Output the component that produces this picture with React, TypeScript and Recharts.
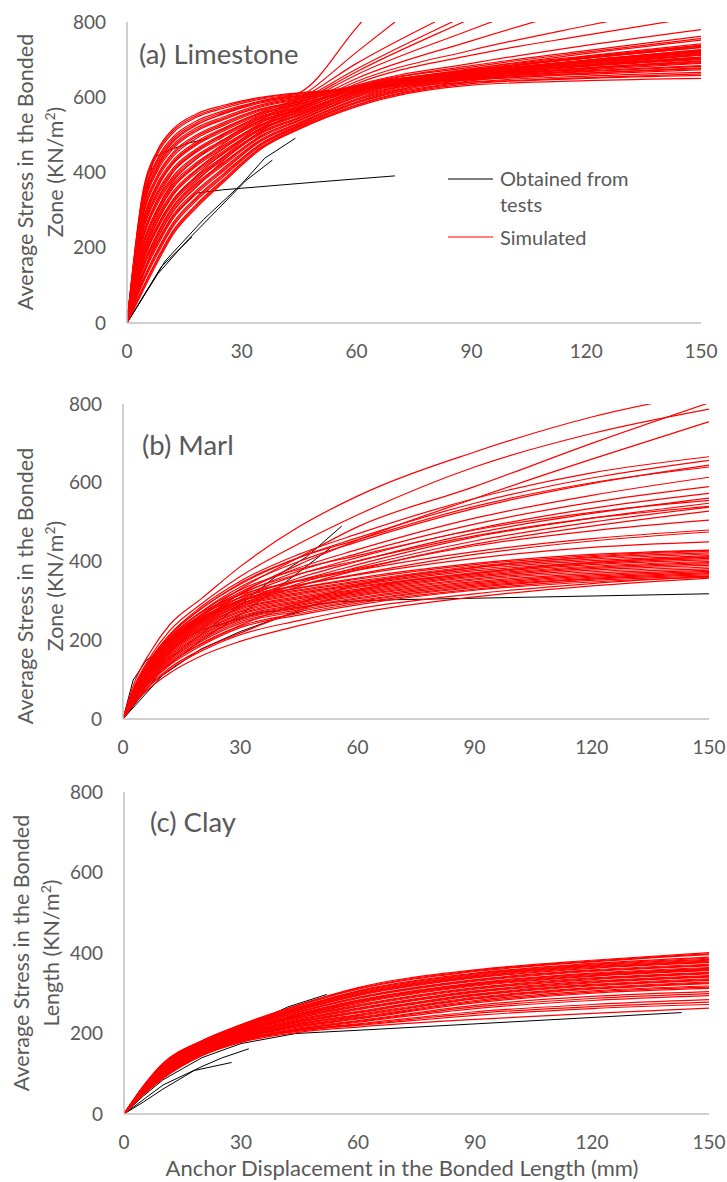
import { LineChart, Line, XAxis, YAxis } from "recharts"

const xTicks = [0, 30, 60, 90, 120, 150]
const yTicks = [0, 200, 400, 600, 800]

// (a) Limestone – simulated curves share one displacement grid
const limestoneX = [0, 4, 8, 12, 18, 25, 35, 45, 60, 90, 120, 150]
const limestoneSim = [
  [0, 340, 460, 515, 555, 578, 600, 612, 622, 640, 652, 662],
  [0, 335, 455, 510, 550, 574, 598, 610, 624, 646, 661, 673],
  [0, 330, 449, 505, 546, 570, 595, 608, 625, 652, 670, 684],
  [0, 321, 438, 494, 536, 563, 590, 605, 628, 662, 686, 706],
  [0, 316, 433, 489, 531, 559, 588, 603, 627, 664, 690, 712],
  [0, 311, 427, 484, 527, 555, 585, 601, 630, 668, 696, 722],
  [0, 302, 416, 473, 518, 547, 580, 598, 624, 648, 664, 676],
  [0, 297, 411, 468, 513, 543, 577, 596, 627, 668, 697, 724],
  [0, 292, 405, 463, 509, 540, 574, 594, 629, 676, 710, 742],
  [0, 283, 394, 453, 499, 532, 569, 590, 626, 660, 684, 704],
  [0, 278, 389, 448, 495, 528, 567, 589, 629, 672, 704, 733],
  [0, 273, 383, 442, 490, 524, 564, 587, 632, 684, 724, 762],
  [0, 264, 372, 432, 481, 517, 559, 583, 620, 650, 668, 682],
  [0, 259, 367, 427, 477, 513, 557, 582, 624, 661, 686, 707],
  [0, 254, 361, 422, 472, 509, 554, 580, 628, 672, 704, 732],
  [0, 245, 350, 411, 462, 502, 549, 576, 623, 656, 678, 696],
  [0, 240, 345, 406, 458, 498, 547, 574, 627, 673, 708, 738],
  [0, 235, 339, 401, 453, 494, 544, 572, 631, 690, 738, 780],
  [0, 226, 328, 390, 444, 486, 539, 569, 619, 654, 676, 692],
  [0, 221, 323, 385, 440, 483, 537, 567, 623, 667, 698, 724],
  [0, 216, 317, 380, 435, 479, 534, 565, 627, 680, 720, 756],
  [0, 206, 305, 370, 425, 471, 528, 562, 618, 664, 694, 720],
  [0, 202, 300, 365, 421, 467, 526, 560, 616, 664, 694, 718],
  [0, 197, 294, 359, 416, 463, 523, 558, 615, 658, 684, 702],
  [0, 187, 283, 349, 407, 456, 518, 555, 617, 670, 706, 738],
  [0, 183, 278, 344, 403, 452, 516, 553, 614, 666, 698, 726],
  [0, 178, 272, 339, 398, 448, 513, 551, 612, 662, 690, 714],
  [0, 168, 261, 328, 388, 441, 508, 547, 610, 674, 716, 752],
  [0, 164, 256, 323, 384, 437, 506, 546, 608, 665, 699, 726],
  [0, 159, 250, 318, 379, 433, 503, 544, 607, 656, 682, 700],
  [0, 149, 239, 308, 370, 425, 498, 540, 604, 668, 704, 736],
  [0, 145, 234, 303, 366, 422, 496, 539, 602, 660, 691, 716],
  [0, 140, 228, 297, 361, 418, 493, 537, 600, 652, 678, 696],
  [0, 130, 217, 287, 351, 410, 488, 533, 596, 660, 694, 722],
  [0, 126, 212, 282, 347, 406, 486, 531, 594, 654, 683, 706],
  [0, 121, 206, 277, 342, 402, 483, 529, 592, 648, 672, 690],
  [0, 111, 195, 266, 333, 395, 477, 526, 588, 654, 686, 712],
  [0, 107, 190, 261, 329, 391, 475, 524, 586, 649, 675, 695],
  [0, 102, 184, 256, 324, 387, 472, 522, 584, 644, 664, 678],
  [0, 92, 173, 245, 314, 380, 467, 519, 580, 640, 656, 666],
  [0, 87, 168, 240, 310, 376, 465, 517, 578, 636, 650, 658],
  [0, 82, 162, 235, 305, 372, 462, 515, 575, 632, 644, 650],
  // curves that keep climbing past the top of the axis
  [0, 300, 420, 480, 525, 555, 590, 612, 785, 1150, 1500, 1850],
  [0, 250, 360, 425, 475, 515, 560, 600, 720, 960, 1200, 1440],
  [0, 220, 330, 400, 455, 500, 552, 595, 690, 850, 1010, 1170],
  [0, 200, 305, 375, 435, 485, 545, 590, 675, 825, 975, 1125],
  [0, 185, 290, 360, 420, 475, 540, 585, 668, 810, 950, 1090],
  [0, 170, 270, 340, 405, 462, 532, 580, 660, 780, 895, 1010],
  [0, 155, 255, 325, 390, 450, 525, 575, 650, 750, 840, 925],
  [0, 140, 240, 310, 375, 440, 518, 570, 642, 725, 790, 850],
  [0, 125, 225, 295, 360, 430, 510, 565, 636, 712, 765, 815],
]
const limestoneTests = [
  [[0, 0], [3, 250], [7, 440], [10, 455], [16, 478], [21, 490]],
  [[0, 0], [6, 180], [12, 285], [18, 345], [25, 354], [50, 375], [70, 391]],
  [[0, 0], [8, 130], [16, 222], [24, 305], [31, 378], [38, 433]],
  [[0, 0], [10, 165], [20, 275], [30, 370], [36, 438], [44, 491]],
  [[0, 0], [9, 150], [17, 229]],
]

// (b) Marl
const marlX = [0, 3, 7, 12, 20, 30, 45, 60, 90, 120, 150]
const marlSim = [
  [0, 95, 170, 240, 305, 387, 488, 566, 678, 767, 830],
  [0, 85, 158, 225, 292, 362, 445, 518, 640, 725, 787],
  [0, 70, 135, 195, 262, 330, 410, 488, 590, 700, 803],
  [0, 65, 128, 185, 250, 318, 392, 454, 560, 660, 755],
  [0, 80, 150, 215, 285, 350, 418, 470, 560, 625, 666],
  [0, 82, 152, 214, 280, 345, 410, 455, 540, 600, 640],
  [0, 78, 148, 212, 280, 342, 410, 460, 548, 612, 657],
  [0, 75, 143, 205, 272, 335, 400, 450, 535, 598, 645],
  [0, 73, 140, 200, 265, 322, 384, 430, 510, 568, 614],
  [0, 72, 137, 196, 260, 316, 376, 420, 495, 550, 590],
  [0, 70, 133, 190, 254, 310, 367, 410, 482, 535, 573],
  [0, 68, 130, 186, 248, 303, 358, 400, 472, 522, 561],
  [0, 77, 146, 207, 272, 328, 380, 415, 480, 525, 555],
  [0, 66, 126, 180, 242, 297, 351, 392, 462, 510, 548],
  [0, 74, 140, 200, 262, 318, 368, 402, 465, 510, 540],
  [0, 64, 122, 175, 236, 290, 344, 385, 452, 500, 538],
  [0, 62, 118, 170, 230, 284, 337, 378, 444, 490, 528],
  [0, 71, 135, 193, 255, 308, 352, 382, 440, 478, 505],
  [0, 80, 148, 208, 270, 315, 350, 378, 425, 458, 480],
  [0, 69, 131, 187, 248, 300, 340, 368, 418, 452, 475],
  [0, 78, 145, 204, 264, 308, 340, 366, 408, 436, 450],
  [0, 76, 142, 200, 258, 302, 333, 358, 395, 418, 429],
  [0, 75, 140, 197, 255, 300, 332, 355, 392, 415, 428],
  [0, 50, 97, 142, 192, 238, 294, 340, 385, 412, 426],
  [0, 74, 138, 195, 252, 298, 328, 350, 388, 410, 422],
  [0, 73, 136, 192, 249, 294, 325, 347, 384, 406, 419],
  [0, 72, 134, 190, 246, 292, 321, 343, 380, 402, 415],
  [0, 45, 88, 130, 176, 218, 276, 326, 370, 398, 412],
  [0, 71, 132, 187, 243, 289, 318, 340, 376, 398, 411],
  [0, 70, 130, 185, 240, 286, 315, 337, 372, 395, 408],
  [0, 68, 128, 182, 236, 282, 311, 334, 369, 392, 404],
  [0, 67, 126, 179, 233, 279, 308, 330, 366, 388, 400],
  [0, 65, 123, 176, 229, 275, 305, 327, 363, 385, 397],
  [0, 64, 121, 173, 226, 272, 301, 324, 360, 382, 394],
  [0, 62, 118, 170, 222, 268, 298, 321, 356, 378, 390],
  [0, 61, 116, 167, 219, 265, 295, 318, 353, 374, 386],
  [0, 59, 113, 163, 215, 261, 291, 315, 349, 370, 382],
  [0, 58, 111, 160, 212, 258, 288, 312, 346, 366, 378],
  [0, 56, 108, 156, 208, 254, 284, 308, 343, 363, 375],
  [0, 55, 106, 153, 205, 251, 281, 305, 340, 360, 372],
  [0, 53, 103, 150, 201, 247, 277, 301, 337, 357, 369],
  [0, 52, 100, 146, 197, 243, 273, 298, 334, 355, 366],
  [0, 50, 96, 141, 190, 236, 268, 294, 330, 352, 363],
  [0, 48, 93, 137, 186, 232, 264, 290, 327, 348, 360],
  [0, 44, 86, 126, 172, 214, 250, 280, 318, 344, 362],
  [0, 40, 80, 117, 160, 197, 237, 269, 310, 338, 358],
]
const marlTests = [
  [[0, 0], [2.6, 99], [6, 150], [20, 226], [35, 270], [55, 298], [70, 303], [150, 318]],
  [[0, 0], [10, 140], [20, 215], [30, 290], [39, 361], [47, 412], [56, 490]],
  [[0, 0], [10, 125], [20, 200], [30, 265], [40, 335], [53, 434]],
  [[0, 0], [10, 110], [20, 178], [30, 222], [40, 258], [47, 277]],
]

// (c) Clay
const clayX = [0, 5, 10, 20, 30, 45, 60, 90, 120, 150]
const claySim = [
  [0, 70, 126, 182, 222, 272, 314, 358, 382, 401],
  [0, 70, 125, 182, 221, 271, 312, 356, 380, 398],
  [0, 69, 124, 181, 220, 269, 310, 354, 378, 396],
  [0, 68, 123, 179, 218, 266, 306, 350, 374, 390],
  [0, 68, 122, 179, 218, 265, 304, 348, 372, 387],
  [0, 67, 121, 178, 217, 264, 302, 346, 370, 384],
  [0, 67, 120, 177, 216, 262, 300, 344, 368, 382],
  [0, 66, 120, 176, 215, 261, 298, 342, 366, 380],
  [0, 66, 118, 175, 214, 259, 296, 340, 364, 378],
  [0, 66, 118, 175, 213, 258, 294, 338, 362, 376],
  [0, 65, 117, 173, 211, 255, 290, 334, 358, 372],
  [0, 65, 116, 173, 211, 254, 289, 332, 356, 370],
  [0, 64, 115, 172, 210, 253, 287, 330, 354, 368],
  [0, 63, 114, 170, 208, 250, 283, 326, 350, 364],
  [0, 63, 113, 170, 207, 248, 281, 324, 348, 362],
  [0, 62, 112, 169, 206, 247, 279, 322, 346, 360],
  [0, 62, 111, 168, 205, 245, 277, 320, 344, 358],
  [0, 61, 111, 167, 204, 244, 275, 318, 342, 356],
  [0, 60, 109, 166, 203, 242, 271, 314, 338, 352],
  [0, 60, 109, 165, 202, 240, 269, 312, 336, 350],
  [0, 59, 108, 164, 201, 239, 267, 310, 334, 348],
  [0, 59, 106, 163, 199, 236, 263, 306, 330, 344],
  [0, 58, 106, 162, 198, 234, 261, 304, 328, 342],
  [0, 58, 105, 161, 197, 233, 259, 302, 326, 340],
  [0, 57, 103, 160, 196, 231, 255, 298, 322, 336],
  [0, 57, 103, 159, 195, 229, 253, 296, 320, 334],
  [0, 56, 102, 158, 194, 228, 251, 294, 318, 332],
  [0, 55, 100, 157, 192, 225, 247, 290, 314, 328],
  [0, 55, 100, 156, 191, 224, 245, 288, 312, 326],
  [0, 54, 99, 155, 190, 222, 243, 286, 310, 324],
  [0, 53, 97, 154, 189, 220, 240, 282, 306, 318],
  [0, 53, 97, 153, 188, 218, 238, 279, 303, 315],
  [0, 52, 96, 152, 187, 217, 236, 276, 300, 312],
  [0, 52, 94, 151, 185, 214, 232, 270, 292, 304],
  [0, 52, 94, 150, 184, 212, 230, 266, 287, 299],
  [0, 51, 93, 149, 183, 211, 228, 262, 282, 294],
  [0, 50, 91, 148, 182, 209, 224, 254, 272, 284],
  [0, 50, 91, 147, 181, 208, 222, 250, 267, 278],
  [0, 49, 90, 146, 180, 206, 220, 245, 262, 272],
  [0, 48, 88, 145, 178, 203, 216, 235, 250, 263],
]
const clayTests = [
  [[0, 0], [5, 45], [10, 85], [20, 140], [30, 175], [44, 200], [60, 208], [143, 252]],
  [[0, 0], [5, 30], [10, 62], [18, 108], [27.6, 128]],
  [[0, 0], [10, 72], [20, 118], [25, 139], [32, 162]],
  [[0, 0], [10, 105], [20, 165], [32, 220], [42, 266], [52, 297]],
  [[0, 0], [10, 100], [20, 160], [30, 200], [42, 240], [55, 266]],
]

const FONT = "Lato, 'Open Sans', sans-serif"
const TEXT = "#595959"
const AXIS = "#bfbfbf"

const gridPoints = (xs: number[], ys: number[]) => xs.map((x, i) => ({ x, y: ys[i] }))
const pairPoints = (pairs: number[][]) => pairs.map(([x, y]) => ({ x, y }))

type PanelProps = {
  top: number
  height: number
  margin: { top: number; right: number; bottom: number; left: number }
  yWidth: number
  simX: number[]
  sim: number[][]
  tests: number[][][]
}

function Panel({ top, height, margin, yWidth, simX, sim, tests }: PanelProps) {
  const tick = { fill: TEXT, fontSize: 19, fontFamily: FONT }
  return (
    <div style={{ position: "absolute", left: 0, top }}>
      <LineChart width={727} height={height} margin={margin}>
        <XAxis
          type="number"
          dataKey="x"
          domain={[0, 150]}
          ticks={xTicks}
          allowDataOverflow
          height={30}
          tickLine={false}
          tickMargin={16}
          tick={tick}
          axisLine={{ stroke: AXIS, strokeWidth: 1.5 }}
        />
        <YAxis
          type="number"
          domain={[0, 800]}
          ticks={yTicks}
          allowDataOverflow
          width={yWidth}
          tickLine={false}
          tickMargin={15}
          tick={tick}
          axisLine={{ stroke: AXIS, strokeWidth: 1.5 }}
        />
        {tests.map((t, i) => (
          <Line
            key={"test" + i}
            data={pairPoints(t)}
            dataKey="y"
            type="linear"
            stroke="#000000"
            strokeWidth={1}
            dot={false}
            activeDot={false}
            isAnimationActive={false}
          />
        ))}
        {sim.map((s, i) => (
          <Line
            key={"sim" + i}
            data={gridPoints(simX, s)}
            dataKey="y"
            type="monotone"
            stroke="#ff0000"
            strokeWidth={1.2}
            dot={false}
            activeDot={false}
            isAnimationActive={false}
          />
        ))}
      </LineChart>
    </div>
  )
}

function AxisTitle({ cy, x1, x2, lines }: { cy: number; x1: number; x2: number; lines: string[] }) {
  return (
    <g fill={TEXT} fontSize={21.5} fontFamily={FONT} textAnchor="middle">
      <text x={x1} y={cy} transform={`rotate(-90 ${x1} ${cy})`}>{lines[0]}</text>
      <text x={x2} y={cy} transform={`rotate(-90 ${x2} ${cy})`}>
        {lines[1]}
        <tspan>(KN/m</tspan>
        <tspan dy={-8} fontSize={14}>2</tspan>
        <tspan dy={8}>)</tspan>
      </text>
    </g>
  )
}

export default function App() {
  return (
    <div style={{ position: "absolute", left: 0, top: 0, width: 727, height: 1182, background: "#fff" }}>
      <Panel
        top={0}
        height={380}
        margin={{ top: 22, right: 26, bottom: 27, left: 0 }}
        yWidth={127}
        simX={limestoneX}
        sim={limestoneSim}
        tests={limestoneTests}
      />
      <Panel
        top={380}
        height={380}
        margin={{ top: 24, right: 18, bottom: 11, left: 0 }}
        yWidth={123}
        simX={marlX}
        sim={marlSim}
        tests={marlTests}
      />
      <Panel
        top={760}
        height={422}
        margin={{ top: 32, right: 18, bottom: 38, left: 0 }}
        yWidth={124}
        simX={clayX}
        sim={claySim}
        tests={clayTests}
      />

      <svg
        width={727}
        height={1182}
        style={{ position: "absolute", left: 0, top: 0, pointerEvents: "none" }}
      >
        <g fill={TEXT} fontFamily={FONT} fontSize={27.5}>
          <text x={139} y={64}>(a) Limestone</text>
          <text x={142} y={455}>(b) Marl</text>
          <text x={150} y={832}>(c) Clay</text>
        </g>

        <AxisTitle cy={172} x1={33} x2={63} lines={["Average Stress in the Bonded", "Zone "]} />
        <AxisTitle cy={586} x1={33} x2={63} lines={["Average Stress in the Bonded", "Zone "]} />
        <AxisTitle cy={953} x1={29} x2={59} lines={["Average Stress in the Bonded", "Length "]} />

        <text x={402} y={1176} fill={TEXT} fontFamily={FONT} fontSize={22} textAnchor="middle">
          Anchor Displacement in the Bonded Length (mm)
        </text>

        {/* legend of panel (a) */}
        <line x1={448} y1={179} x2={493} y2={179} stroke="#000000" strokeWidth={1} />
        <line x1={448} y1={237} x2={493} y2={237} stroke="#ff0000" strokeWidth={1} />
        <g fill={TEXT} fontFamily={FONT} fontSize={20}>
          <text x={500} y={186}>Obtained from</text>
          <text x={500} y={212}>tests</text>
          <text x={500} y={245}>Simulated</text>
        </g>
      </svg>
    </div>
  )
}
